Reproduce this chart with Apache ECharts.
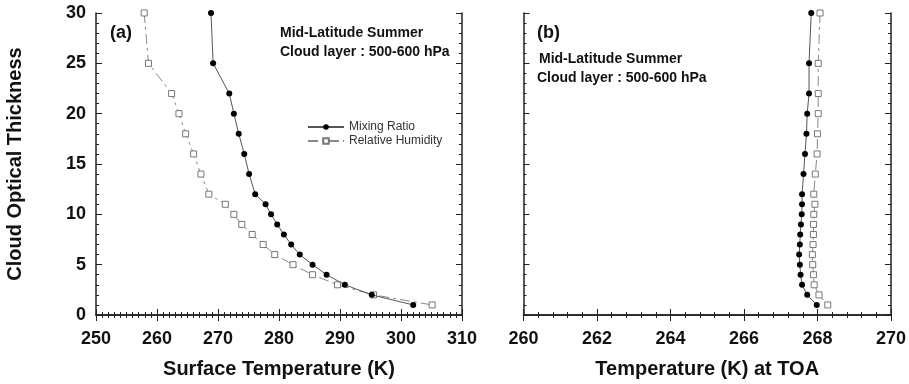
<!DOCTYPE html>
<html>
<head>
<meta charset="utf-8">
<script src="https://cdn.jsdelivr.net/npm/echarts@6/dist/echarts.min.js"></script>
<style>
html,body{margin:0;padding:0;background:#fff;}
#chart{width:909px;height:384px;}
</style>
</head>
<body>
<div id="chart"></div>
<script>
// Cloud optical thickness (shared y values)
var tau = [30,25,22,20,18,16,14,12,11,10,9,8,7,6,5,4,3,2,1];
// Panel (a): surface temperature (K)
var surfMixing = [268.85,269.2,271.85,272.6,273.4,274.3,275.1,276.1,277.8,278.7,279.7,280.8,282.0,283.4,285.5,287.8,290.8,295.2,302.0];
var surfRH     = [257.9,258.6,262.4,263.6,264.7,266.0,267.2,268.5,271.2,272.6,273.9,275.6,277.4,279.3,282.3,285.5,289.6,295.5,305.1];
// Panel (b): temperature at TOA (K)
var toaMixing = [267.83,267.77,267.77,267.72,267.70,267.66,267.62,267.58,267.58,267.57,267.55,267.53,267.52,267.50,267.52,267.54,267.58,267.72,267.98];
var toaRH     = [268.07,268.02,268.02,268.02,268.00,267.99,267.94,267.90,267.93,267.90,267.89,267.89,267.88,267.86,267.87,267.89,267.91,268.04,268.28];
// Axis settings
var seriesNames = ['Mixing Ratio','Relative Humidity'];
var xTitleA = 'Surface Temperature (K)';
var xTitleB = 'Temperature (K) at TOA';
var yTitle = 'Cloud Optical Thickness';

function pairs(xs, ys){ return xs.map(function(x,i){ return [x, ys[i]]; }); }

var FONT = '"Liberation Sans", Arial, sans-serif';
var axisLine = {show:true, lineStyle:{color:'#222', width:1.5}};

function xAx(grid, min, max, interval, split, pos, main, name){
  return {
    type:'value', gridIndex:grid, min:min, max:max, interval:interval, position:pos,
    axisLine:axisLine,
    axisTick:{show:true, inside:true, length:6, lineStyle:{color:'#222', width:1}},
    minorTick:{show:true, splitNumber:split, length:3, lineStyle:{color:'#222', width:1}},
    splitLine:{show:false}, minorSplitLine:{show:false},
    axisLabel:{show:main, margin:15, color:'#111', fontFamily:FONT, fontWeight:'bold', fontSize:18},
    name: main ? name : '', nameLocation:'middle', nameGap:44,
    nameTextStyle:{color:'#111', fontFamily:FONT, fontWeight:'bold', fontSize:20}
  };
}
function yAx(grid, pos, showLabel, name){
  return {
    type:'value', gridIndex:grid, min:0, max:30, interval:5, position:pos,
    axisLine:axisLine,
    axisTick:{show:true, inside:true, length:6, lineStyle:{color:'#222', width:1}},
    minorTick:{show:true, splitNumber:5, length:3, lineStyle:{color:'#222', width:1}},
    splitLine:{show:false}, minorSplitLine:{show:false},
    axisLabel:{show:showLabel, margin:10, color:'#111', fontFamily:FONT, fontWeight:'bold', fontSize:18},
    name: name || '', nameLocation:'middle', nameGap:71,
    nameTextStyle:{color:'#111', fontFamily:FONT, fontWeight:'bold', fontSize:20}
  };
}

var mrStyle = {
  type:'line', symbol:'circle', symbolSize:6,
  itemStyle:{color:'#000', borderColor:'#000', borderWidth:0},
  lineStyle:{color:'#555', width:1, type:'solid'}
};
var rhStyle = {
  type:'line', symbol:'rect', symbolSize:6,
  itemStyle:{color:'#fff', borderColor:'#777', borderWidth:1},
  lineStyle:{color:'#888', width:1, type:[10,4,3,4]}
};
function mk(base, name, xi, yi, data){
  var s = JSON.parse(JSON.stringify(base));
  s.name = name; s.xAxisIndex = xi; s.yAxisIndex = yi; s.data = data;
  s.animation = false; s.z = base === mrStyle ? 3 : 2;
  return s;
}

var chart = echarts.init(document.getElementById('chart'), null, {renderer:'canvas'});
chart.setOption({
  backgroundColor:'#fff',
  animation:false,
  grid:[
    {left:96, top:13, width:366, height:310},
    {left:523.5, top:13, width:368, height:310}
  ],
  xAxis:[
    xAx(0, 250, 310, 10, 10, 'bottom', true, xTitleA),
    xAx(0, 250, 310, 10, 10, 'top', false, ''),
    xAx(1, 260, 270, 2, 5, 'bottom', true, xTitleB),
    xAx(1, 260, 270, 2, 5, 'top', false, '')
  ],
  yAxis:[
    yAx(0, 'left', true, yTitle),
    yAx(0, 'right', false, ''),
    yAx(1, 'left', false, ''),
    yAx(1, 'right', false, '')
  ],
  legend:{
    data:seriesNames, orient:'vertical', left:302, top:116,
    itemWidth:36, itemHeight:7, itemGap:2,
    textStyle:{color:'#333', fontFamily:FONT, fontSize:12}
  },
  series:[
    mk(mrStyle, seriesNames[0], 0, 0, pairs(surfMixing, tau)),
    mk(rhStyle, seriesNames[1], 0, 0, pairs(surfRH, tau)),
    mk(mrStyle, seriesNames[0], 2, 2, pairs(toaMixing, tau)),
    mk(rhStyle, seriesNames[1], 2, 2, pairs(toaRH, tau))
  ],
  graphic:[
    {type:'text', left:110, top:24, style:{text:'(a)', fill:'#111', font:'bold 18px "Liberation Sans", Arial, sans-serif'}},
    {type:'text', left:280, top:26, style:{text:'Mid-Latitude Summer', fill:'#111', font:'bold 14px "Liberation Sans", Arial, sans-serif'}},
    {type:'text', left:280, top:45, style:{text:'Cloud layer : 500-600 hPa', fill:'#111', font:'bold 14px "Liberation Sans", Arial, sans-serif'}},
    {type:'text', left:537, top:24, style:{text:'(b)', fill:'#111', font:'bold 18px "Liberation Sans", Arial, sans-serif'}},
    {type:'text', left:539, top:52, style:{text:'Mid-Latitude Summer', fill:'#111', font:'bold 14px "Liberation Sans", Arial, sans-serif'}},
    {type:'text', left:537, top:71, style:{text:'Cloud layer : 500-600 hPa', fill:'#111', font:'bold 14px "Liberation Sans", Arial, sans-serif'}}
  ]
});
</script>
</body>
</html>
